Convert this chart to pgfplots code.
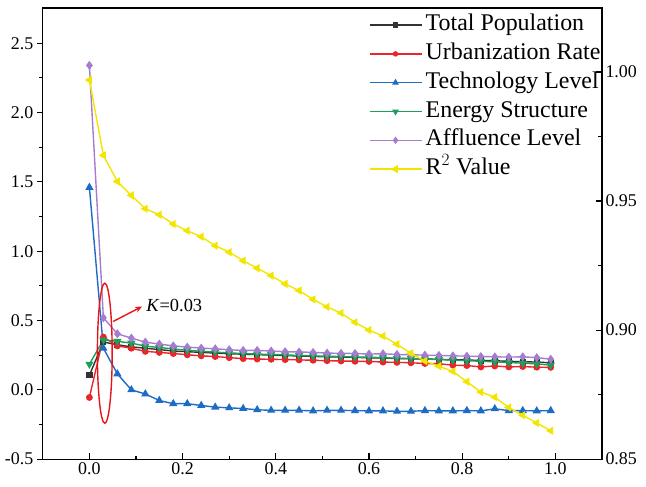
\documentclass[border=0pt]{standalone}
\usepackage{fontspec}
\setmainfont{Liberation Serif}
\usepackage{pgfplots}
\usepackage{pgfplotstable}
\pgfplotsset{compat=1.18}
\usetikzlibrary{arrows.meta}

\definecolor{cpop}{HTML}{333333}
\definecolor{curb}{HTML}{E8262B}
\definecolor{ctech}{HTML}{1E6BC6}
\definecolor{cene}{HTML}{1F9E5A}
\definecolor{caff}{HTML}{A57CD0}
\definecolor{cr2}{HTML}{F2E600}
\definecolor{cann}{HTML}{E8141B}

\pgfplotstableread{
x    pop    urb     tech    ene    aff    r2
0.00 0.105  -0.055  1.46    0.185  2.34   0.9969
0.03 0.345  0.38    0.30    0.36   0.52   0.9677
0.06 0.325  0.317   0.115   0.35   0.404  0.9576
0.09 0.31   0.30    0.0     0.337  0.373  0.9522
0.12 0.30   0.277   -0.03   0.315  0.344  0.9470
0.15 0.29   0.27    -0.077  0.305  0.33   0.9447
0.18 0.28   0.262   -0.10   0.295  0.317  0.9411
0.21 0.275  0.253   -0.10   0.285  0.308  0.9385
0.24 0.27   0.245   -0.113  0.278  0.301  0.9362
0.27 0.265  0.24    -0.125  0.272  0.296  0.9327
0.30 0.26   0.232   -0.13   0.266  0.289  0.9302
0.33 0.257  0.225   -0.135  0.262  0.284  0.9269
0.36 0.254  0.222   -0.144  0.258  0.284  0.9240
0.39 0.25   0.22    -0.148  0.255  0.28   0.9211
0.42 0.247  0.218   -0.148  0.252  0.275  0.9179
0.45 0.244  0.216   -0.148  0.248  0.273  0.9153
0.48 0.241  0.213   -0.152  0.245  0.27   0.9119
0.51 0.238  0.21    -0.148  0.242  0.265  0.909
0.54 0.236  0.208   -0.148  0.24   0.263  0.9066
0.57 0.234  0.206   -0.15   0.237  0.262  0.903
0.60 0.231  0.205   -0.152  0.235  0.258  0.900
0.63 0.229  0.2     -0.152  0.232  0.26   0.8977
0.66 0.226  0.198   -0.155  0.228  0.255  0.8945
0.69 0.224  0.195   -0.155  0.225  0.253  0.891
0.72 0.222  0.19    -0.15   0.222  0.25   0.888
0.75 0.22   0.188   -0.152  0.218  0.248  0.886
0.78 0.217  0.178   -0.152  0.214  0.245  0.884
0.81 0.215  0.175   -0.15   0.21   0.243  0.880
0.84 0.212  0.165   -0.152  0.206  0.24   0.876
0.87 0.21   0.172   -0.137  0.202  0.238  0.874
0.90 0.205  0.165   -0.15   0.197  0.236  0.870
0.93 0.203  0.168   -0.15   0.192  0.238  0.867
0.96 0.2    0.163   -0.152  0.187  0.232  0.864
0.99 0.195  0.162   -0.15   0.178  0.221  0.861
}\data

\pgfplotsset{
  base/.style={
    scale only axis, width=559bp, height=451bp,
    xmin=-0.1, xmax=1.1,
    axis line style={line width=1.1bp, black},
    major tick length=6bp, minor tick length=3.5bp,
    every tick/.style={line width=1.1bp, black},
    tick label style={font=\fontsize{18}{20}\selectfont},
    /pgf/number format/assume math mode=true,
  },
  sty/.style={line width=1.4bp, mark options={solid}},
}

\begin{document}
\begin{tikzpicture}
\begin{axis}[base, name=A,
  ymin=-0.5, ymax=2.754,
  xtick=\empty,
  ytick={-0.5,0,0.5,1,1.5,2,2.5}, minor y tick num=1,
  ytick pos=left, tick align=outside,
  yticklabel style={/pgf/number format/.cd, fixed, fixed zerofill, precision=1},
  clip=false,
]
\addplot[sty, color=cpop, mark=square*, mark size=2.4bp] table[x=x, y=pop] {\data};
\addplot[sty, color=curb, mark=*, mark size=2.7bp] table[x=x, y=urb] {\data};
\addplot[sty, color=ctech, mark=triangle*, mark size=3.4bp] table[x=x, y=tech] {\data};
\addplot[sty, color=cene, mark=triangle*, mark options={rotate=180}, mark size=3.4bp] table[x=x, y=ene] {\data};
\addplot[sty, color=caff, mark=diamond*, mark size=3.4bp] table[x=x, y=aff] {\data};
\draw[cann, line width=1.4bp] (axis cs:0.033,0.264) ellipse [x radius=7.4bp, y radius=70bp];
\draw[cann, line width=1.4bp, -{Stealth[length=7bp, width=6bp]}] (axis cs:0.051,0.493) -- (axis cs:0.113,0.601);
\node[anchor=west, inner sep=0pt, font=\fontsize{18.5}{20}\selectfont] at (axis cs:0.122,0.606) {\textit{K}=0.03};
\end{axis}
\begin{axis}[base,
  ymin=0.85, ymax=1.0248,
  axis x line*=bottom, axis y line*=right,
  tick align=inside,
  xtick={0,0.2,0.4,0.6,0.8,1.0}, minor x tick num=1,
  ytick={0.85,0.90,0.95,1.00}, minor y tick num=1,
  xticklabel style={/pgf/number format/.cd, fixed, fixed zerofill, precision=1},
  yticklabel style={/pgf/number format/.cd, fixed, fixed zerofill, precision=2},
  legend style={at={(0.583,0.9865)}, anchor=north west, draw=none, fill=none,
    inner sep=0pt, outer sep=0pt, row sep=6.8bp,
    font=\fontsize{24}{26}\selectfont,
    nodes={inner xsep=3.5bp, inner ysep=0pt, text height=16.5bp, text depth=5.5bp}},
  legend cell align=left,
  legend image code/.code={\draw[mark repeat=2, mark phase=2, #1] plot coordinates {(0bp,0bp) (26bp,0bp) (52bp,0bp)};},
]
\addlegendimage{sty, color=cpop, mark=square*, mark size=2bp}
\addlegendentry{Total Population}
\addlegendimage{sty, color=curb, mark=*, mark size=2bp}
\addlegendentry{Urbanization Rate}
\addlegendimage{sty, color=ctech, mark=triangle*, mark size=2.6bp}
\addlegendentry{Technology Level}
\addlegendimage{sty, color=cene, mark=triangle*, mark options={rotate=180}, mark size=2.6bp}
\addlegendentry{Energy Structure}
\addlegendimage{sty, color=caff, mark=diamond*, mark size=2.6bp}
\addlegendentry{Affluence Level}
\addplot[sty, color=cr2, mark=triangle*, mark options={rotate=90}, mark size=3.4bp] table[x=x, y=r2] {\data};
\addlegendentry{R$^2$ Value}
\end{axis}
\pgfresetboundingbox
\useasboundingbox ([xshift=-42.8bp,yshift=-27bp]A.south west) rectangle ([xshift=44bp,yshift=8bp]A.north east);
\end{tikzpicture}
\end{document}
